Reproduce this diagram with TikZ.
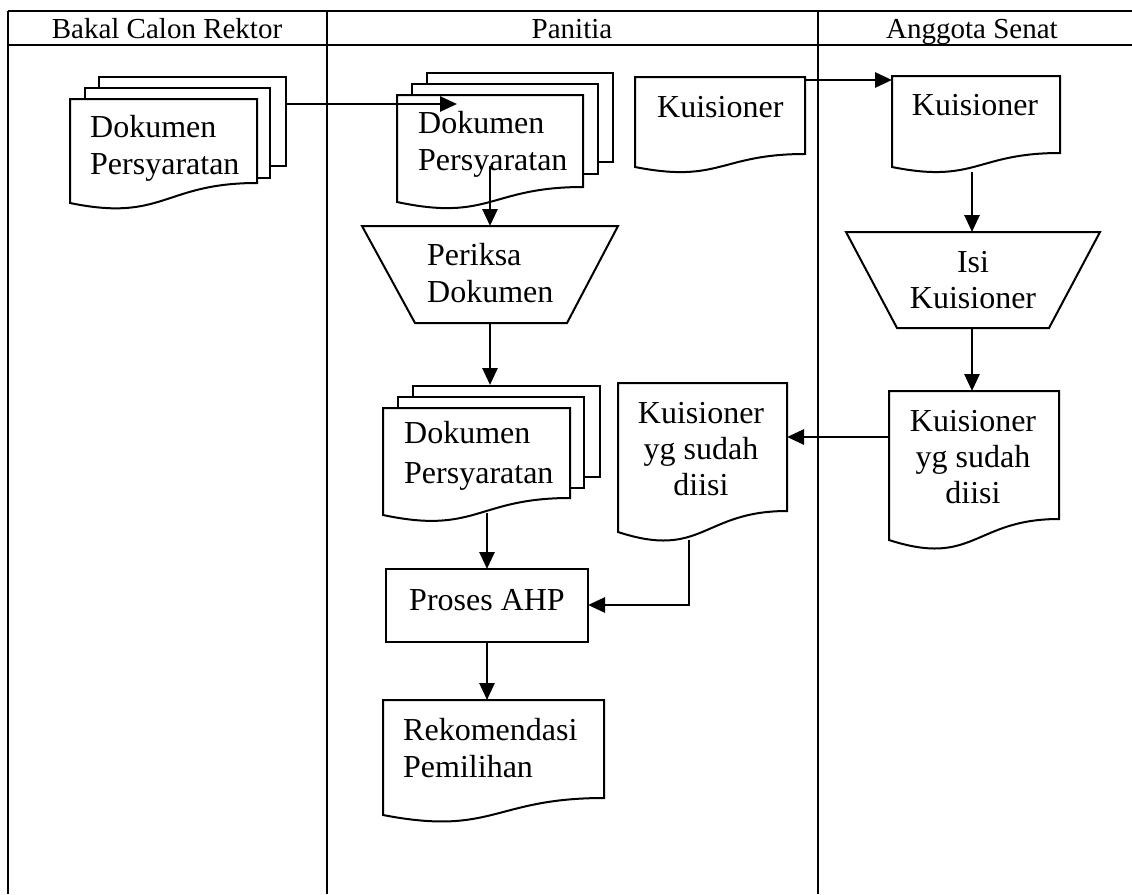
\documentclass[tikz,border=0pt]{standalone}
\usepackage{fontspec}
\setmainfont{Liberation Serif}
\usetikzlibrary{arrows.meta}
\tikzset{
  tableline/.style={line width=2pt},
  shapeline/.style={line width=2pt, fill=white, line join=miter},
  conn/.style={line width=2.8pt, -{Triangle[length=17pt,width=15pt]}},
  hdr/.style={inner sep=0pt, anchor=base, font=\fontsize{29}{34}\selectfont},
  txtl/.style={inner sep=0pt, anchor=base west, align=left, font=\fontsize{32}{37}\selectfont},
  txtc/.style={inner sep=0pt, anchor=base, align=center, font=\fontsize{32}{36}\selectfont},
}
% document shape: x1 y1 x2 yRight yLeft
\newcommand{\docpath}[5]{%
  \pgfmathsetmacro\dH{(#5-#2)/0.934}%
  \pgfmathsetmacro\dC{#2+1.1075*\dH}%
  \pgfmathsetmacro\dM{(#1+#3)/2}%
  \draw[shapeline] (#1,#2) -- (#3,#2) -- (#3,#4) .. controls (\dM,#4) and (\dM,\dC) .. (#1,#5) -- cycle;
}
\begin{document}
\begin{tikzpicture}[x=1pt,y=-1pt]
\useasboundingbox (0,0) rectangle (1132,894);
% table
\draw[tableline] (8,11) -- (1132,11);
\draw[tableline] (8,45) -- (1132,45);
\draw[tableline] (8,11) -- (8,894);
\draw[tableline] (327,11) -- (327,894);
\draw[tableline] (818,11) -- (818,894);
\node[hdr] (h1) at (167,38) {Bakal Calon Rektor};
\node[hdr] (h2) at (572,38) {Panitia};
\node[hdr] (h3) at (972,38) {Anggota Senat};

% left multidocument
\draw[shapeline] (99,77) rectangle (286,166);
\draw[shapeline] (85,88) rectangle (270,178);
\docpath{70}{99}{257}{183}{203}
\node[txtl] (ldoc) at (90,174) {Dokumen\\Persyaratan};
\coordinate (ldocout) at (286,104);

% panitia multidocument (top)
\draw[shapeline] (427,73) rectangle (613,162);
\draw[shapeline] (412,84) rectangle (598,174);
\docpath{397}{95}{583}{187}{202}
\node[txtl] (pdoc) at (418,170) {Dokumen\\Persyaratan};
\coordinate (pdocin) at (457,104);
\coordinate (pdocout) at (490,166);

% periksa dokumen
\draw[shapeline] (362,226) -- (618,226) -- (567,323) -- (415,323) -- cycle;
\node[txtl] (periksa) at (427,302) {Periksa\\Dokumen};
\coordinate (periksain) at (490,226);
\coordinate (periksaout) at (490,323);

% panitia multidocument (lower)
\draw[shapeline] (413,386) rectangle (600,477);
\draw[shapeline] (398,397) rectangle (584,488);
\docpath{383}{408}{570}{498}{515}
\node[txtl] (pdoc2) at (404,483) {Dokumen\\[3pt]Persyaratan};
\coordinate (pdoc2in) at (490,385);
\coordinate (pdoc2out) at (487,513);

% proses AHP
\draw[shapeline] (386,569) rectangle (588,642);
\node[txtc] (ahp) at (487,610) {Proses AHP};
\coordinate (ahpin) at (487,569);
\coordinate (ahpright) at (588,605);
\coordinate (ahpout) at (487,642);

% rekomendasi
\docpath{383}{700}{604}{798}{815}
\node[txtl] (rek) at (403,777) {Rekomendasi\\Pemilihan};
\coordinate (rekin) at (487,700);

% panitia kuisioner
\docpath{635}{77}{805}{154}{167}
\node[txtl] (pk) at (657,117) {Kuisioner};
\coordinate (pkout) at (805,80);

% senat kuisioner
\docpath{892}{76}{1060}{153}{167}
\node[txtc] (sk) at (975,115) {Kuisioner};
\coordinate (skin) at (892,80);
\coordinate (skout) at (972,172);

% isi kuisioner
\draw[shapeline] (846,232) -- (1100,232) -- (1049,328) -- (897,328) -- cycle;
\node[txtc] (isi) at (973,308) {Isi\\Kuisioner};
\coordinate (isiin) at (972,232);
\coordinate (isiout) at (972,328);

% senat kuisioner sudah diisi
\docpath{889}{391}{1059}{519}{540}
\node[txtc] (sks) at (973,503) {Kuisioner\\yg sudah\\diisi};
\coordinate (sksin) at (972,391);
\coordinate (sksout) at (889,437);

% panitia kuisioner sudah diisi
\docpath{618}{383}{787}{511}{532}
\node[txtc] (pks) at (701,495) {Kuisioner\\yg sudah\\diisi};
\coordinate (pksin) at (787,437);
\coordinate (pksout) at (689,540);
\coordinate (pksbend) at (689,605);

% connectors
\draw[conn] (ldocout) -- (pdocin);
\draw[conn] (pdocout) -- (periksain);
\draw[conn] (periksaout) -- (pdoc2in);
\draw[conn] (pdoc2out) -- (ahpin);
\draw[conn] (ahpout) -- (rekin);
\draw[conn] (pkout) -- (skin);
\draw[conn] (skout) -- (isiin);
\draw[conn] (isiout) -- (sksin);
\draw[conn] (sksout) -- (pksin);
\draw[conn] (pksout) -- (pksbend) -- (ahpright);
\end{tikzpicture}
\end{document}
